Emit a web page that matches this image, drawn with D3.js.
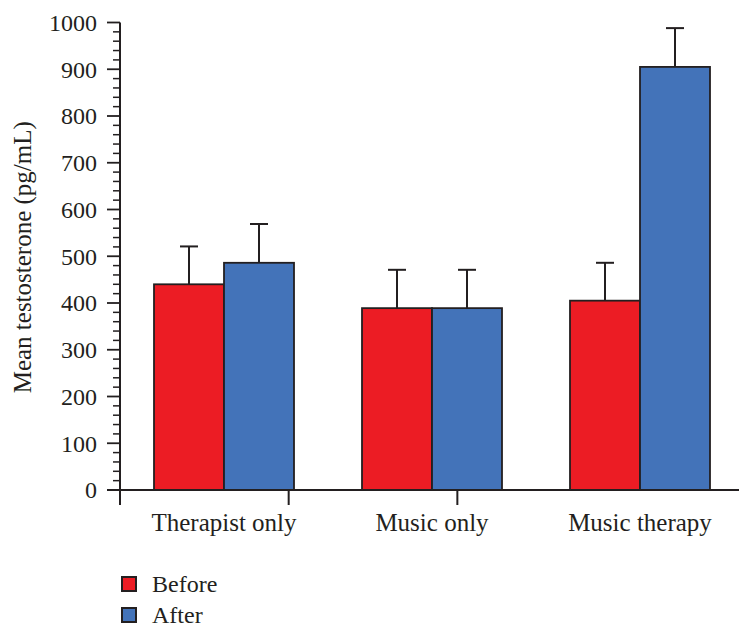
<!DOCTYPE html>
<html>
<head>
<meta charset="utf-8">
<script src="https://cdn.jsdelivr.net/npm/d3@7"></script>
<style>
  html, body { margin: 0; padding: 0; background: #fff; }
  svg text { font-family: "Liberation Serif", "DejaVu Serif", serif; fill: #231f20; }
</style>
</head>
<body>
<svg id="chart" width="739" height="631"></svg>
<script>
// Groups and measurement phases
const groups = ["Therapist only", "Music only", "Music therapy"];
const phases = ["Before", "After"];

// Mean testosterone (pg/mL) per group
const beforeMeans = [440, 389, 405];
const afterMeans  = [486, 389, 905];

// Upper error bar lengths (pg/mL)
const beforeErr = [81, 82, 81];
const afterErr  = [83, 82, 83];

// Y axis labels
const yTicks = [0, 100, 200, 300, 400, 500, 600, 700, 800, 900, 1000];

const colors = { Before: "#ec1c24", After: "#4373b9" };

const svg = d3.select("#chart");
const plotLeft = 120, plotRight = 739, plotTop = 22.5, plotBottom = 490;

const y = d3.scaleLinear().domain([0, 1000]).range([plotBottom, plotTop]);

// Category bands (each group 208 px wide, first centred at 224)
const x0 = d3.scaleBand().domain(groups).range([plotLeft, plotLeft + 208 * groups.length]).paddingInner(0);
const x1 = d3.scaleBand().domain(phases).range([0, x0.bandwidth()])
  .paddingInner(0).paddingOuter((x0.bandwidth() / 70 - 2) / 2);

const rows = groups.map((g, i) => ({
  group: g,
  values: [
    { phase: "Before", mean: beforeMeans[i], err: beforeErr[i] },
    { phase: "After", mean: afterMeans[i], err: afterErr[i] }
  ]
}));

// Y axis: major ticks every 100, minor every 20
const yAxisG = svg.append("g");
yAxisG.append("line")
  .attr("x1", plotLeft).attr("x2", plotLeft)
  .attr("y1", y(1000)).attr("y2", plotBottom + 15)
  .attr("stroke", "#231f20").attr("stroke-width", 2);
yAxisG.selectAll("line.minor")
  .data(d3.range(0, 1001, 20).filter(v => v % 100 !== 0))
  .join("line").attr("class", "minor")
  .attr("x1", plotLeft - 7).attr("x2", plotLeft)
  .attr("y1", d => y(d)).attr("y2", d => y(d))
  .attr("stroke", "#231f20").attr("stroke-width", 1.5);
yAxisG.selectAll("line.major")
  .data(yTicks)
  .join("line").attr("class", "major")
  .attr("x1", plotLeft - 13).attr("x2", plotLeft)
  .attr("y1", d => y(d)).attr("y2", d => y(d))
  .attr("stroke", "#231f20").attr("stroke-width", 1.8);
yAxisG.selectAll("text")
  .data(yTicks)
  .join("text")
  .attr("x", plotLeft - 23).attr("y", d => y(d))
  .attr("dy", "0.35em")
  .attr("text-anchor", "end")
  .attr("font-size", 24)
  .text(d => d);

// Axis title
svg.append("text")
  .attr("transform", `translate(31,${(plotTop + plotBottom) / 2 + 1}) rotate(-90)`)
  .attr("text-anchor", "middle")
  .attr("font-size", 25)
  .text("Mean testosterone (pg/mL)");

// Bars
const barG = svg.append("g").selectAll("g")
  .data(rows).join("g")
  .attr("transform", d => `translate(${x0(d.group)},0)`);

barG.selectAll("rect")
  .data(d => d.values).join("rect")
  .attr("x", d => x1(d.phase))
  .attr("width", x1.bandwidth())
  .attr("y", d => y(d.mean))
  .attr("height", d => plotBottom - y(d.mean))
  .attr("fill", d => colors[d.phase])
  .attr("stroke", "#231f20").attr("stroke-width", 1.8);

// Error bars (upper only)
barG.selectAll("line.err")
  .data(d => d.values).join("line").attr("class", "err")
  .attr("x1", d => x1(d.phase) + x1.bandwidth() / 2)
  .attr("x2", d => x1(d.phase) + x1.bandwidth() / 2)
  .attr("y1", d => y(d.mean)).attr("y2", d => y(d.mean + d.err))
  .attr("stroke", "#231f20").attr("stroke-width", 2);
barG.selectAll("line.cap")
  .data(d => d.values).join("line").attr("class", "cap")
  .attr("x1", d => x1(d.phase) + x1.bandwidth() / 2 - 9)
  .attr("x2", d => x1(d.phase) + x1.bandwidth() / 2 + 9)
  .attr("y1", d => y(d.mean + d.err)).attr("y2", d => y(d.mean + d.err))
  .attr("stroke", "#231f20").attr("stroke-width", 2);

// X axis line and separator ticks
const xAxisG = svg.append("g");
xAxisG.append("line")
  .attr("x1", plotLeft - 13).attr("x2", plotRight)
  .attr("y1", plotBottom).attr("y2", plotBottom)
  .attr("stroke", "#231f20").attr("stroke-width", 2);
const sepStep = (plotRight - plotLeft) * 0.2725;
xAxisG.selectAll("line.sep")
  .data([1, 2])
  .join("line").attr("class", "sep")
  .attr("x1", d => plotLeft + d * sepStep).attr("x2", d => plotLeft + d * sepStep)
  .attr("y1", plotBottom).attr("y2", plotBottom + 15)
  .attr("stroke", "#231f20").attr("stroke-width", 2);
xAxisG.selectAll("text")
  .data(groups).join("text")
  .attr("x", d => x0(d) + x0.bandwidth() / 2)
  .attr("y", plotBottom + 41)
  .attr("text-anchor", "middle")
  .attr("font-size", 25)
  .text(d => d);

// Legend
const legend = svg.append("g").selectAll("g")
  .data(phases).join("g")
  .attr("transform", (d, i) => `translate(122,${577 + i * 31})`);
legend.append("rect")
  .attr("width", 14).attr("height", 14)
  .attr("fill", d => colors[d])
  .attr("stroke", "#231f20").attr("stroke-width", 2);
legend.append("text")
  .attr("x", 30).attr("y", 15)
  .attr("font-size", 24)
  .text(d => d);
</script>
</body>
</html>
